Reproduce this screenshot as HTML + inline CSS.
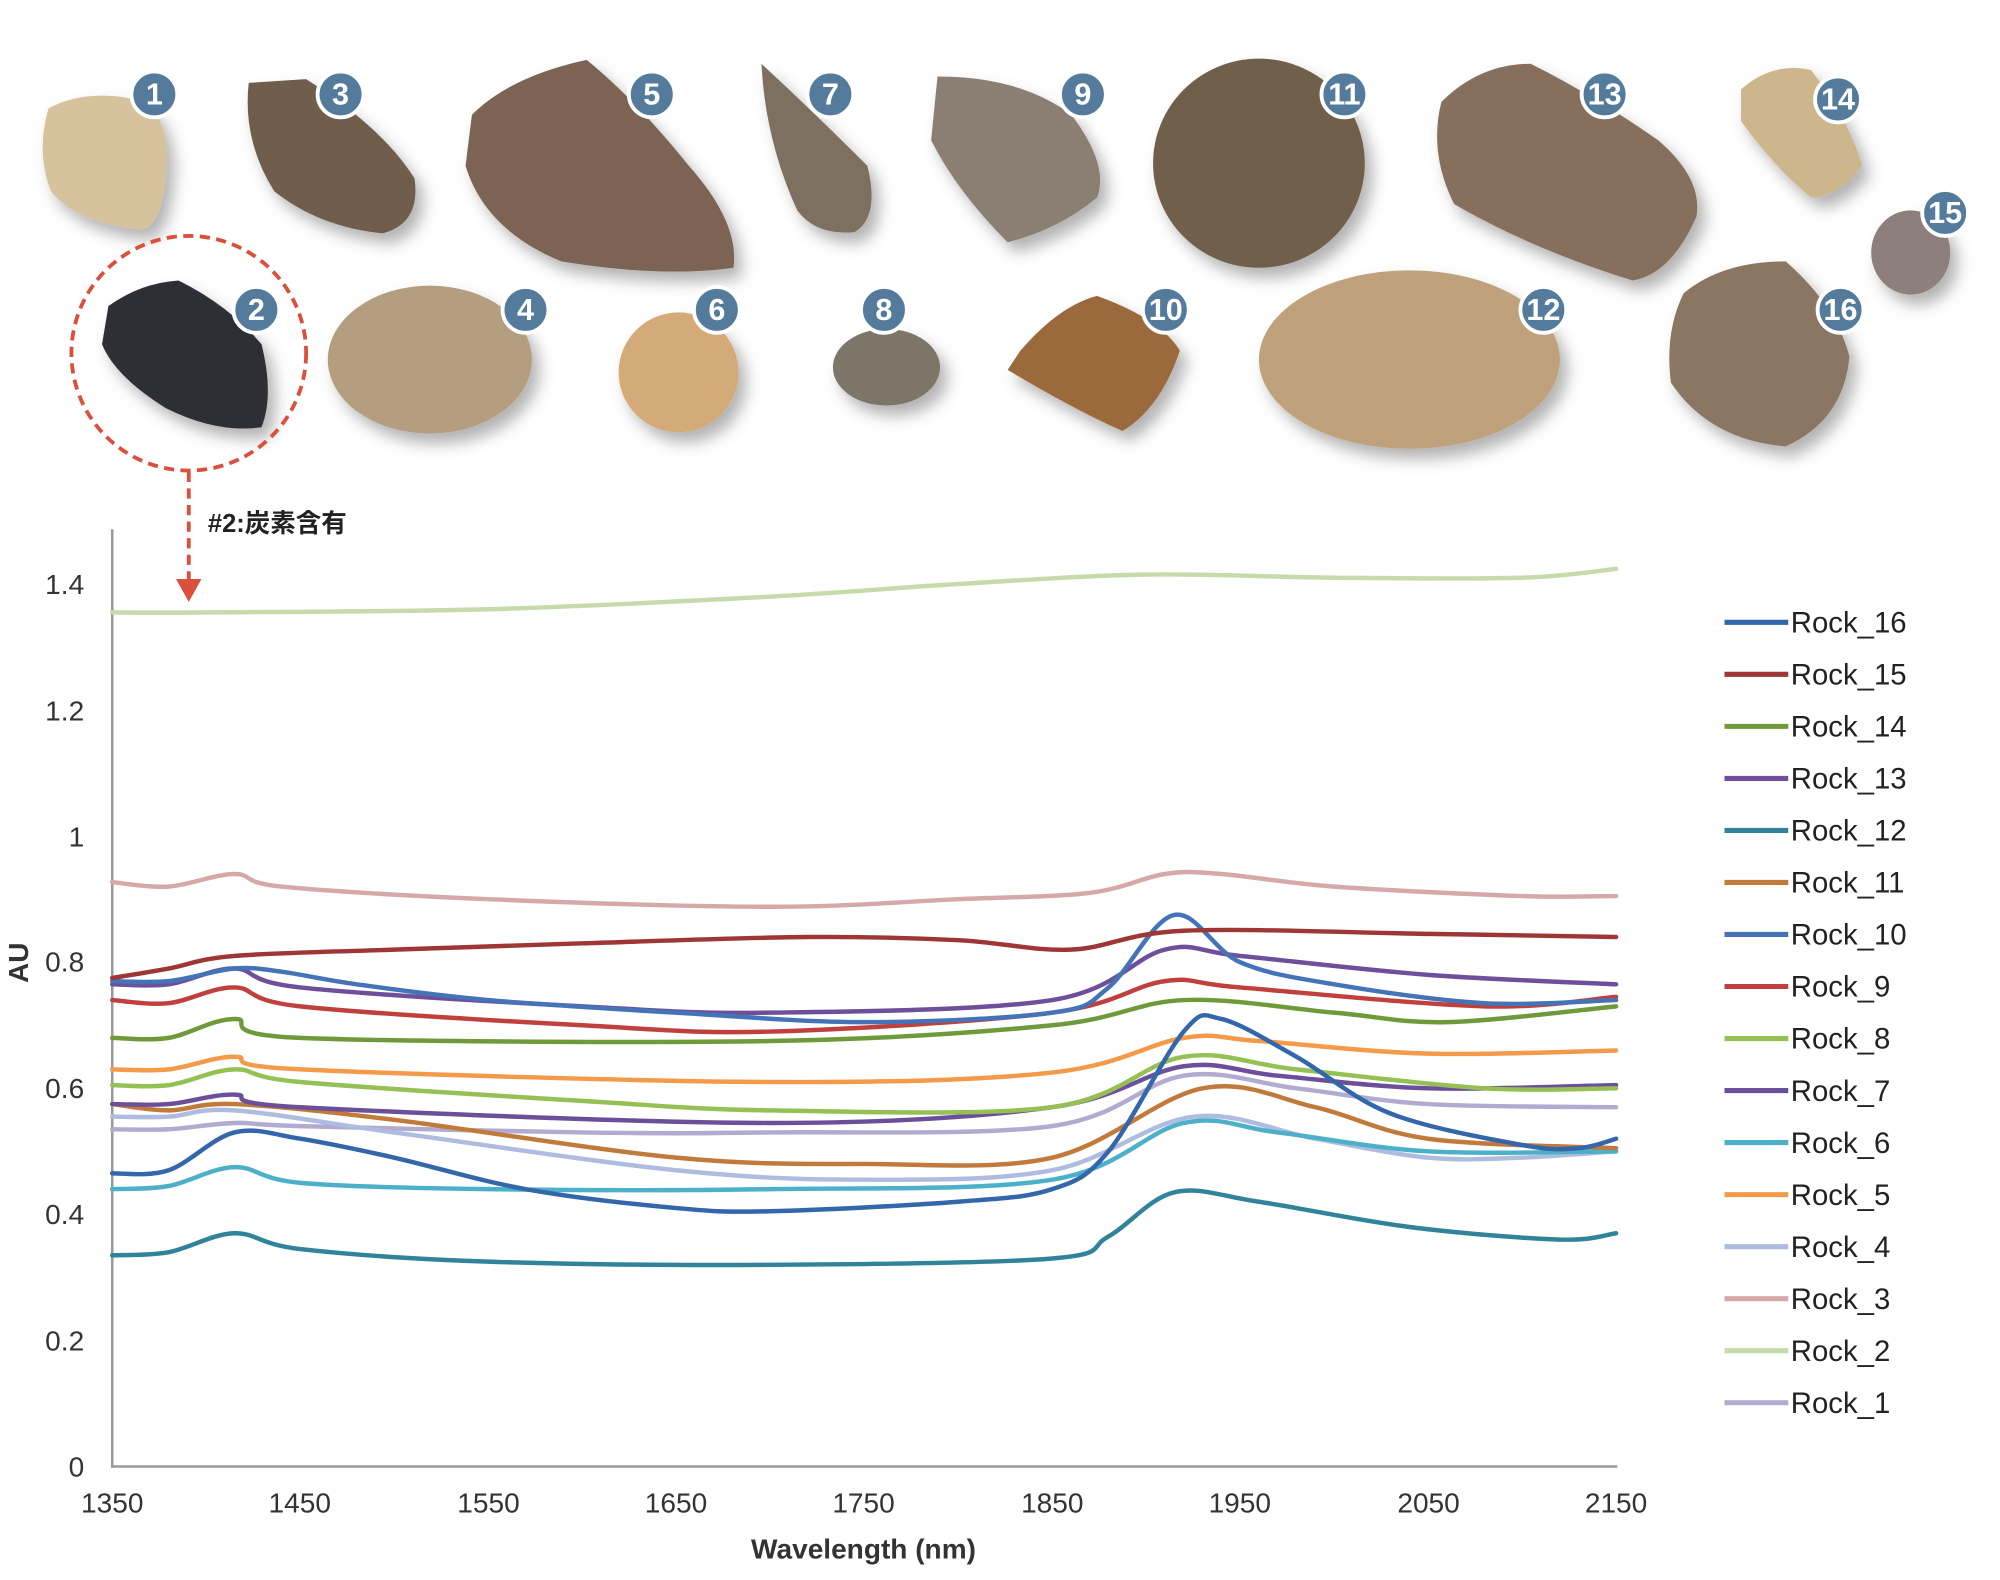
<!DOCTYPE html>
<html><head><meta charset="utf-8"><style>
html,body{margin:0;padding:0;background:#fff;}
svg{display:block;}
text{font-family:"Liberation Sans","Noto Sans CJK JP",sans-serif;}
</style></head><body>
<svg id="s" width="2000" height="1580" viewBox="0 0 1568 1239" preserveAspectRatio="none" xmlns="http://www.w3.org/2000/svg">
<defs><filter id="sh" x="-30%" y="-30%" width="160%" height="160%"><feDropShadow dx="6" dy="8" stdDeviation="6" flood-color="#000" flood-opacity="0.3"/></filter></defs>
<g filter="url(#sh)">
<path d="M38,85 Q70,68 115,80 Q135,100 130,140 Q125,180 110,180 Q60,175 40,150 Q28,120 38,85Z" fill="#d6c29c"/>
<path d="M195,65 L240,62 Q300,100 325,140 Q330,175 300,183 Q250,178 215,150 Q190,110 195,65Z" fill="#6f5d4c"/>
<path d="M370,90 Q400,60 460,47 Q500,80 540,130 Q580,175 575,210 Q520,218 440,205 Q380,180 365,130Z" fill="#7b6352"/>
<path d="M597,50 Q640,90 680,130 Q690,170 670,182 Q640,185 625,165 Q600,110 597,50Z" fill="#7e7061"/>
<path d="M735,60 Q800,60 840,90 Q870,130 860,155 Q830,180 790,190 Q750,150 730,110Z" fill="#8a7f72"/>
<ellipse cx="987" cy="128" rx="83" ry="82" fill="#6f604c"/>
<path d="M1130,80 Q1160,50 1200,50 Q1250,75 1300,110 Q1335,140 1330,170 Q1310,215 1280,220 Q1200,195 1140,160 Q1120,120 1130,80Z" fill="#86705d"/>
<path d="M1365,70 Q1390,48 1420,55 Q1450,95 1460,130 Q1440,155 1420,155 Q1390,130 1365,95Z" fill="#cdb58c"/>
<ellipse cx="1498" cy="198" rx="31" ry="33" fill="#8d807b"/>
<path d="M85,240 Q110,222 140,220 Q180,240 205,270 Q215,310 205,335 Q170,340 130,320 Q90,295 80,270Z" fill="#2e2e34"/>
<ellipse cx="337" cy="282" rx="80" ry="58" fill="#b59d80"/>
<ellipse cx="532" cy="292" rx="47" ry="47" fill="#d4aa78"/>
<ellipse cx="695" cy="288" rx="42" ry="30" fill="#7d7468"/>
<path d="M800,275 Q830,240 860,232 Q910,250 925,275 Q910,320 880,338 Q840,320 790,290Z" fill="#9a6a3c"/>
<ellipse cx="1105" cy="282" rx="118" ry="70" fill="#bfa27c"/>
<path d="M1320,230 Q1350,205 1400,205 Q1440,240 1450,280 Q1445,330 1400,350 Q1340,345 1310,300 Q1305,260 1320,230Z" fill="#8a7664"/>
</g>
<g id="badges" font-weight="bold" font-size="24" fill="#fff" text-anchor="middle"></g>
<circle cx="148" cy="277" r="92" fill="none" stroke="#d9503c" stroke-width="3" stroke-dasharray="8,5"/>
<line x1="148" y1="370" x2="148" y2="455" stroke="#d9503c" stroke-width="3" stroke-dasharray="8,5"/>
<polygon points="138,454 158,454 148,472" fill="#d9503c"/>
<text x="163" y="417" font-size="20" font-weight="bold" fill="#222">#2:炭素含有</text>
<line x1="88" y1="415" x2="88" y2="1151" stroke="#999" stroke-width="2"/>
<line x1="87" y1="1150" x2="1268" y2="1150" stroke="#999" stroke-width="2"/>
<g font-size="22" fill="#333" text-anchor="end">
<text x="66" y="466">1.4</text><text x="66" y="565">1.2</text><text x="66" y="664">1</text><text x="66" y="762">0.8</text><text x="66" y="861">0.6</text><text x="66" y="960">0.4</text><text x="66" y="1059">0.2</text><text x="66" y="1158">0</text>
</g>
<g font-size="22" fill="#333" text-anchor="middle">
<text x="88" y="1186">1350</text><text x="235" y="1186">1450</text><text x="383" y="1186">1550</text><text x="530" y="1186">1650</text><text x="677" y="1186">1750</text><text x="825" y="1186">1850</text><text x="972" y="1186">1950</text><text x="1120" y="1186">2050</text><text x="1267" y="1186">2150</text>
</g>
<text x="677" y="1222" font-size="22" font-weight="bold" fill="#333" text-anchor="middle">Wavelength (nm)</text>
<text transform="translate(22,755) rotate(-90)" font-size="22" font-weight="bold" fill="#333" text-anchor="middle">AU</text>
<g id="curves" fill="none" stroke-width="3.5" stroke-linejoin="round" stroke-linecap="round"></g>
<g id="legend" font-size="23" fill="#222"></g>
</svg>
<script>
var B=[[1,121,74],[3,267,74],[5,511,74],[7,651,74],[9,849,74],[11,1054,74],[13,1258,74],[14,1441,78],[15,1525,167],[2,201,243],[4,412,243],[6,562,243],[8,693,243],[10,914,243],[12,1210,243],[16,1443,243]];
var g=document.getElementById('badges'),NS="http://www.w3.org/2000/svg",h='';
B.forEach(function(b){h+='<circle cx="'+b[1]+'" cy="'+b[2]+'" r="18" fill="#547b9c" stroke="#fff" stroke-width="3"/><text x="'+b[1]+'" y="'+(b[2]+8)+'">'+b[0]+'</text>';});
g.innerHTML=h;
function X(n){return 88+(n-1350)*1179/800;}
function Y(a){return 1150-a*494.3;}
var S={
2:['#c5dbab',[[1350,1.355],[1400,1.355],[1550,1.36],[1700,1.38],[1800,1.40],[1900,1.415],[2000,1.41],[2100,1.41],[2150,1.424]]],
3:['#d6a9a9',[[1350,0.927],[1380,0.92],[1415,0.94],[1440,0.92],[1550,0.90],[1700,0.888],[1800,0.90],[1870,0.91],[1910,0.94],[1940,0.94],[2000,0.92],[2100,0.905],[2150,0.905]]],
15:['#9e3636',[[1350,0.775],[1380,0.79],[1415,0.81],[1500,0.82],[1600,0.83],[1720,0.84],[1800,0.835],[1860,0.82],[1920,0.85],[2050,0.845],[2150,0.84]]],
13:['#6f4e9b',[[1350,0.765],[1380,0.765],[1415,0.79],[1450,0.76],[1600,0.73],[1700,0.72],[1850,0.74],[1910,0.82],[1950,0.81],[2050,0.78],[2150,0.765]]],
10:['#4473b8',[[1350,0.77],[1380,0.77],[1415,0.79],[1440,0.785],[1480,0.765],[1550,0.74],[1650,0.72],[1750,0.705],[1850,0.72],[1880,0.76],[1915,0.875],[1950,0.80],[2000,0.765],[2080,0.735],[2150,0.74]]],
9:['#c0403d',[[1350,0.74],[1380,0.735],[1415,0.76],[1450,0.73],[1600,0.70],[1700,0.69],[1850,0.72],[1910,0.77],[1950,0.76],[2080,0.73],[2150,0.745]]],
14:['#6f9a3a',[[1350,0.68],[1380,0.68],[1415,0.71],[1450,0.68],[1700,0.675],[1850,0.70],[1920,0.74],[2000,0.72],[2060,0.705],[2150,0.73]]],
5:['#f59a48',[[1350,0.63],[1380,0.63],[1415,0.65],[1450,0.63],[1700,0.61],[1850,0.625],[1920,0.68],[1960,0.675],[2050,0.655],[2150,0.66]]],
8:['#94c054',[[1350,0.605],[1380,0.605],[1415,0.63],[1450,0.61],[1600,0.58],[1700,0.565],[1850,0.57],[1920,0.65],[1980,0.63],[2080,0.60],[2150,0.60]]],
7:['#6c4f9a',[[1350,0.575],[1380,0.575],[1415,0.59],[1450,0.57],[1700,0.545],[1850,0.57],[1920,0.635],[1970,0.62],[2050,0.60],[2150,0.605]]],
11:['#c17a3a',[[1350,0.575],[1380,0.565],[1415,0.575],[1500,0.55],[1650,0.49],[1750,0.48],[1850,0.49],[1930,0.60],[1990,0.57],[2050,0.52],[2150,0.505]]],
1:['#b2aad0',[[1350,0.535],[1380,0.535],[1415,0.545],[1450,0.54],[1600,0.53],[1700,0.53],[1850,0.54],[1920,0.62],[1980,0.60],[2050,0.575],[2150,0.57]]],
4:['#aebcdf',[[1350,0.555],[1380,0.555],[1415,0.565],[1500,0.53],[1650,0.47],[1750,0.455],[1850,0.47],[1925,0.555],[1990,0.52],[2050,0.49],[2100,0.49],[2150,0.50]]],
16:['#3366aa',[[1350,0.465],[1380,0.47],[1415,0.53],[1450,0.52],[1500,0.49],[1570,0.44],[1650,0.41],[1700,0.405],[1800,0.42],[1850,0.44],[1880,0.50],[1920,0.69],[1940,0.71],[1980,0.65],[2030,0.56],[2100,0.51],[2130,0.505],[2150,0.52]]],
6:['#4bb0c8',[[1350,0.44],[1380,0.445],[1415,0.475],[1450,0.45],[1550,0.44],[1700,0.44],[1850,0.455],[1920,0.545],[1970,0.53],[2050,0.50],[2150,0.50]]],
12:['#31839a',[[1350,0.335],[1380,0.34],[1415,0.37],[1450,0.345],[1550,0.325],[1700,0.32],[1850,0.33],[1880,0.365],[1915,0.435],[1960,0.42],[2040,0.38],[2120,0.36],[2150,0.37]]]
};
function path(p){var q=p.map(function(a){return [X(a[0]),Y(a[1])];});var d='M'+q[0][0]+','+q[0][1];
for(var i=0;i<q.length-1;i++){var p0=q[Math.max(0,i-1)],p1=q[i],p2=q[i+1],p3=q[Math.min(q.length-1,i+2)];
var c1x=p1[0]+(p2[0]-p0[0])/6,c1y=p1[1]+(p2[1]-p0[1])/6,c2x=p2[0]-(p3[0]-p1[0])/6,c2y=p2[1]-(p3[1]-p1[1])/6;
d+=' C'+c1x+','+c1y+' '+c2x+','+c2y+' '+p2[0]+','+p2[1];}return d;}
var order=[2,3,1,4,6,12,11,7,8,5,14,9,13,16,10,15],c='';
order.forEach(function(k){c+='<path d="'+path(S[k][1])+'" stroke="'+S[k][0]+'"/>';});
document.getElementById('curves').innerHTML=c;
var l='';for(var i=16;i>=1;i--){var y=488+(16-i)*40.8;l+='<line x1="1352" y1="'+y+'" x2="1402" y2="'+y+'" stroke="'+S[i][0]+'" stroke-width="4"/><text x="1404" y="'+(y+8)+'">Rock_'+i+'</text>';}
document.getElementById('legend').innerHTML=l;
</script>
</body></html>
